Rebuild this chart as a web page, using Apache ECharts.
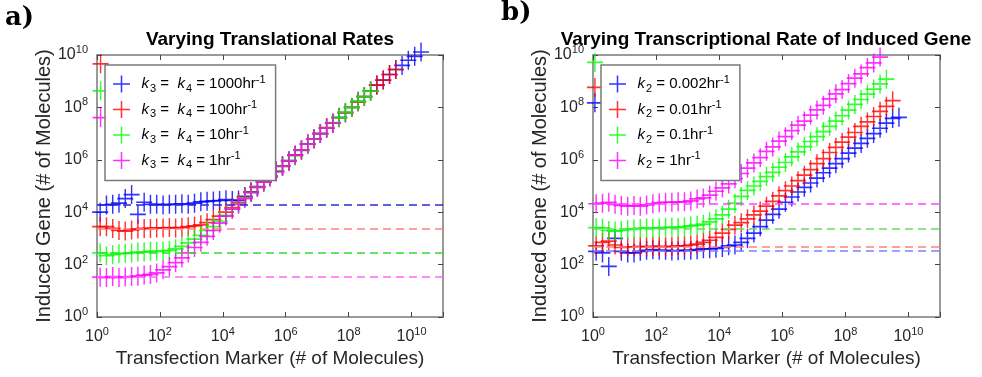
<!DOCTYPE html>
<html>
<head>
<meta charset="utf-8">
<script src="https://cdn.jsdelivr.net/npm/echarts@6/dist/echarts.min.js"></script>
<style>
html, body { margin: 0; padding: 0; background: #fff; }
#chart { width: 982px; height: 377px; }
</style>
</head>
<body>
<div id="chart"></div>
<script>
// bin centres on the transfection-marker axis (shared by every series)
var markerBins = [1.26, 2, 3.16, 5, 7.9, 12.6, 20, 31.6, 50, 79,
    126, 200, 316, 500, 794, 1.26e3, 2e3, 3.16e3, 5e3, 7.9e3,
    1.26e4, 2e4, 3.16e4, 5e4, 7.9e4, 1.26e5, 2e5, 3.16e5, 5e5, 7.9e5,
    1.26e6, 2e6, 3.16e6, 5e6, 7.9e6, 1.26e7, 2e7, 3.16e7, 5e7, 7.9e7,
    1.26e8, 2e8, 3.16e8, 5e8, 7.9e8, 1.26e9, 2e9, 3.16e9, 5e9, 7.9e9,
    1.26e10, 2e10];

// a) varying translational rates
var leftNames = ['k3 = k4 = 1000hr-1', 'k3 = k4 = 100hr-1', 'k3 = k4 = 10hr-1', 'k3 = k4 = 1hr-1'];
var leftRates = ['1000', '100', '10', '1'];
var leftBlue = [1e4, 1.9e4, 2e4, 2.2e4, 3.3e4, 4.7e4, 8.3e3, 2.4e4, 2e4, 2e4,
    1.9e4, 2e4, 2e4, 2.1e4, 2e4, 2.2e4, 2.5e4, 2.6e4, 2.7e4, 2.8e4,
    3e4, 2.8e4, 2.9e4, 4e4, 6e4, 9.5e4, 1.5e5, 2.4e5, 3.7e5, 5.9e5,
    9.3e5, 1.5e6, 2.4e6, 4e6, 6.3e6, 1e7, 1.6e7, 2.5e7, 4.2e7, 6.3e7,
    1e8, 1.7e8, 2.6e8, 4.2e8, 7.1e8, 1.1e9, 1.8e9, 2.8e9, 4e9, 6.3e9,
    8.9e9, 1.3e10];
var leftRed = [2.8e3, 2.8e3, 2.4e3, 2e3, 1.9e3, 2.1e3, 2.3e3, 2.4e3, 2.4e3, 2.5e3,
    2.5e3, 2.6e3, 2.5e3, 2.6e3, 2.8e3, 3e3, 3.3e3, 4e3, 5.2e3, 7.1e3,
    1e4, 1.5e4, 2.4e4, 3.8e4, 5.9e4, 9.3e4, 1.4e5, 2.3e5, 3.5e5, 5.9e5,
    8.9e5, 1.5e6, 2.3e6, 4e6, 6.3e6, 1e7, 1.7e7, 2.5e7, 4e7, 6.3e7,
    1e8, 1.6e8, 2.6e8, 4.2e8, 7.1e8, 1.1e9, 1.8e9, 2.8e9];
var leftGreen = [2.8e2, 2.2e2, 2.4e2, 2.6e2, 2.7e2, 2.8e2, 3e2, 3e2, 3.2e2, 3.2e2,
    3.3e2, 3.5e2, 4e2, 5e2, 6.8e2, 9.3e2, 1.3e3, 2e3, 2.8e3, 4.5e3,
    7.6e3, 1.3e4, 2.1e4, 3.5e4, 5.6e4, 8.9e4, 1.5e5, 2.2e5, 3.7e5, 5.6e5,
    9.3e5, 1.4e6, 2.4e6, 4e6, 6.3e6, 1e7, 1.6e7, 2.6e7, 4e7, 6.6e7,
    1e8, 1.7e8, 2.6e8, 4.2e8];
var leftMagenta = [33, 32, 35, 32, 34, 35, 36, 40, 42, 48,
    63, 83, 1.2e2, 1.8e2, 2.8e2, 4.5e2, 7.1e2, 1.2e3, 2e3, 3.8e3,
    7.1e3, 1.3e4, 2e4, 3.3e4, 5.6e4, 8.9e4, 1.4e5, 2.2e5, 3.5e5, 5.6e5,
    8.9e5, 1.5e6, 2.4e6, 4e6, 6.3e6, 1e7, 1.6e7, 2.5e7];
var leftStrayX = 1.3;
var leftStray = [null, 4.6e9, 4.3e8, 4.1e7];
var leftLevels = [1.95e4, 2.4e3, 2.9e2, 33];

// b) varying transcriptional rate of induced gene
var rightNames = ['k2 = 0.002hr-1', 'k2 = 0.01hr-1', 'k2 = 0.1hr-1', 'k2 = 1hr-1'];
var rightRates = ['0.002', '0.01', '0.1', '1'];
var rightBlue = [3.2e2, 2.8e2, 85, 1e3, 3.2e2, 2.8e2, 2.8e2, 3.2e2, 3.5e2, 3.7e2,
    3.5e2, 3.5e2, 3.3e2, 3.4e2, 3.5e2, 3.5e2, 3.7e2, 4e2, 4e2, 4.2e2,
    4.5e2, 5.2e2, 5.6e2, 7.1e2, 1e3, 1.6e3, 2.8e3, 5e3, 8.3e3, 1.3e4,
    2.4e4, 3.8e4, 5.9e4, 8.9e4, 1.3e5, 2e5, 3.2e5, 4.8e5, 7.1e5, 1.1e6,
    1.8e6, 2.8e6, 4.2e6, 6.6e6, 1e7, 1.6e7, 2.5e7, 3.8e7, 4.2e7];
var rightRed = [5.2e2, 7.1e2, 7.9e2, 5.6e2, 4.5e2, 4.8e2, 4.8e2, 5e2, 4.8e2, 5e2,
    5e2, 4.8e2, 5e2, 5.2e2, 5.2e2, 5.6e2, 6e2, 7.1e2, 8.5e2, 1.1e3,
    1.6e3, 2.2e3, 3.2e3, 4e3, 5.6e3, 7.9e3, 1.1e4, 1.7e4, 2.6e4, 4.2e4,
    6.6e4, 1e5, 1.6e5, 2.6e5, 4.2e5, 7.1e5, 1.1e6, 1.9e6, 3e6, 4.7e6,
    7.4e6, 1.1e7, 1.9e7, 2.8e7, 4.5e7, 7.1e7, 1.1e8, 1.8e8];
var rightGreen = [2.6e3, 2.5e3, 2e3, 1.9e3, 2e3, 2.2e3, 2.3e3, 2.4e3, 2.5e3, 2.4e3,
    2.5e3, 2.6e3, 2.7e3, 2.6e3, 2.8e3, 3e3, 3.2e3, 3.5e3, 4.3e3, 5.6e3,
    7.9e3, 1.3e4, 2.2e4, 4e4, 6.8e4, 1e5, 1.5e5, 2.3e5, 3.3e5, 5.2e5,
    7.9e5, 1.3e6, 2e6, 3.2e6, 5e6, 7.6e6, 1.2e7, 1.9e7, 3e7, 4.8e7,
    7.9e7, 1.3e8, 2e8, 3.2e8, 5e8, 7.9e8, 1.2e9];
var rightMagenta = [2.1e4, 2.2e4, 2.4e4, 2e4, 1.8e4, 1.7e4, 1.8e4, 1.7e4, 1.9e4, 2.1e4,
    2.3e4, 2.4e4, 2.4e4, 2.5e4, 2.5e4, 2.7e4, 3.2e4, 3.5e4, 4.5e4, 6.3e4,
    8.5e4, 1.2e5, 1.9e5, 3e5, 4.8e5, 7.6e5, 1.2e6, 2.1e6, 3.1e6, 5.2e6,
    7.6e6, 1.3e7, 2.1e7, 3e7, 5.1e7, 8e7, 1.2e8, 2.1e8, 3.3e8, 4.8e8,
    8.1e8, 1.3e9, 1.9e9, 3.3e9, 5e9, 8.3e9];
var rightStrayX = 1.15;
var rightStray = [1.5e8, 5.8e8, 5.2e9, null];
var rightLevels = [3.4e2, 4.9e2, 2.3e3, 2.1e4];

var tickExponents = [0, 2, 4, 6, 8, 10];

var FONT = '"Liberation Sans", Arial, sans-serif';
var PLUS = 'path://M0,4.55H10V5.45H0Z M4.55,0H5.45V10H4.55Z';
var colors = ['#0000ff', '#ff0000', '#00ff00', '#ff00ff'];
var leftDash = ['#2b2bd6', '#ff8080', '#33dd33', '#ff66ff'];
var rightDash = ['#8080ff', '#ff8080', '#66dd66', '#ff44ff'];

var chart = echarts.init(document.getElementById('chart'));

function tickLabel(v) {
    var e = Math.round(Math.log10(v));
    if (tickExponents.indexOf(e) < 0) return '';
    return '{b|10}{e|' + e + '}';
}

var tickRich = {
    b: {fontSize: 16, fontFamily: FONT, color: '#262626'},
    e: {fontSize: 11, fontFamily: FONT, color: '#262626', padding: [0, 0, 10, 0]}
};

function logAxis(grid, pos, max, withLabels, name, gap) {
    return {
        type: 'log', logBase: 10, gridIndex: grid, position: pos,
        min: 1, max: max, interval: 2,
        name: withLabels ? name : '', nameLocation: 'middle', nameGap: gap,
        nameTextStyle: {fontFamily: FONT, fontSize: pos === 'left' ? 20 : 19, color: '#262626'},
        axisLine: {show: true, onZero: false, lineStyle: {color: '#9a9a9a', width: 2}},
        axisTick: {show: true, inside: true, length: 5, lineStyle: {color: '#444'}},
        minorTick: {show: false},
        splitLine: {show: false},
        axisLabel: {show: withLabels, margin: 9, formatter: tickLabel, rich: tickRich}
    };
}

function scatterSeries(name, ys, strayX, strayY, color, axisIdx) {
    var data = ys.map(function (y, i) { return [markerBins[i], y]; });
    if (strayY != null) data.push([strayX, strayY]);
    return {
        type: 'scatter', name: name,
        xAxisIndex: axisIdx, yAxisIndex: axisIdx,
        symbol: PLUS, symbolSize: [16, 19],
        itemStyle: {color: color, opacity: 0.8},
        clip: false, z: 3, animation: false,
        data: data
    };
}

function levelSeries(levels, dash, axisIdx) {
    return {
        type: 'line', xAxisIndex: axisIdx, yAxisIndex: axisIdx, data: [], z: 2,
        markLine: {
            silent: true, symbol: 'none', animation: false,
            label: {show: false},
            data: levels.map(function (v, i) {
                return {yAxis: v, lineStyle: {color: dash[i], type: [8, 5], width: 1.5}};
            })
        }
    };
}

var legendRich = {
    k0: {fontFamily: FONT, fontSize: 15, fontStyle: 'italic', color: '#000', padding: [0, 0, 0, 6]},
    k: {fontFamily: FONT, fontSize: 15, fontStyle: 'italic', color: '#000'},
    t: {fontFamily: FONT, fontSize: 15, color: '#000'},
    sub: {fontFamily: FONT, fontSize: 11, color: '#000', padding: [9, 0, 0, 1]},
    sup: {fontFamily: FONT, fontSize: 11, color: '#000', padding: [0, 0, 9, 0]}
};

function legendBox(names, left, top, fmt) {
    return {
        data: names, orient: 'vertical', left: left, top: top,
        icon: PLUS, itemWidth: 18, itemHeight: 17, itemGap: 5.5,
        backgroundColor: '#fff', borderColor: '#7a7a7a', borderWidth: 1.5,
        padding: [9, 10, 10, 8], selectedMode: false,
        formatter: fmt,
        textStyle: {fontFamily: FONT, fontSize: 15, color: '#000', rich: legendRich}
    };
}

var leftSeries = [leftBlue, leftRed, leftGreen, leftMagenta];
var rightSeries = [rightBlue, rightRed, rightGreen, rightMagenta];

var series = [levelSeries(leftLevels, leftDash, 0), levelSeries(rightLevels, rightDash, 2)];
leftSeries.forEach(function (ys, i) {
    series.push(scatterSeries(leftNames[i], ys, leftStrayX, leftStray[i], colors[i], 0));
});
rightSeries.forEach(function (ys, i) {
    series.push(scatterSeries(rightNames[i], ys, rightStrayX, rightStray[i], colors[i], 2));
});

var option = {
    backgroundColor: '#fff',
    animation: false,
    grid: [
        {left: 97, top: 55, width: 346, height: 262},
        {left: 593, top: 55, width: 347, height: 262}
    ],
    xAxis: [
        logAxis(0, 'bottom', 1e11, true, 'Transfection Marker (# of Molecules)', 26),
        logAxis(0, 'top', 1e11, false),
        logAxis(1, 'bottom', 1e11, true, 'Transfection Marker (# of Molecules)', 26),
        logAxis(1, 'top', 1e11, false)
    ],
    yAxis: [
        logAxis(0, 'left', 1e10, true, 'Induced Gene (# of Molecules)', 42),
        logAxis(0, 'right', 1e10, false),
        logAxis(1, 'left', 1e10, true, 'Induced Gene (# of Molecules)', 42),
        logAxis(1, 'right', 1e10, false)
    ],
    legend: [
        legendBox(leftNames, 105, 65, function (n) {
            var r = leftRates[leftNames.indexOf(n)];
            return '{k0|k}{sub|3}{t| =  }{k|k}{sub|4}{t| = ' + r + 'hr}{sup|-1}';
        }),
        legendBox(rightNames, 601, 65, function (n) {
            var r = rightRates[rightNames.indexOf(n)];
            return '{k0|k}{sub|2}{t| = ' + r + 'hr}{sup|-1}';
        })
    ],
    graphic: [
        {type: 'text', x: 5, y: 18, style: {text: 'a)', font: 'bold 26px "DejaVu Serif"', fill: '#000', verticalAlign: 'middle'}},
        {type: 'text', x: 501, y: 13, style: {text: 'b)', font: 'bold 26px "DejaVu Serif"', fill: '#000', verticalAlign: 'middle'}},
        {type: 'text', x: 270, y: 40, style: {text: 'Varying Translational Rates', font: 'bold 19px "Liberation Sans"', fill: '#000', align: 'center', verticalAlign: 'middle'}},
        {type: 'text', x: 766, y: 40, style: {text: 'Varying Transcriptional Rate of Induced Gene', font: 'bold 19px "Liberation Sans"', fill: '#000', align: 'center', verticalAlign: 'middle'}}
    ],
    series: series
};

chart.setOption(option);
</script>
</body>
</html>
